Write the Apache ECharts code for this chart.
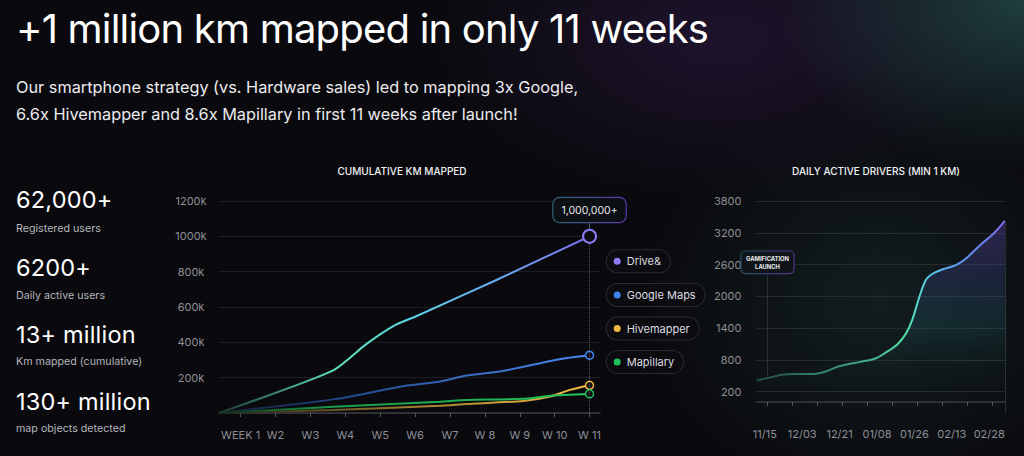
<!DOCTYPE html>
<html>
<head>
<meta charset="utf-8">
<script src="https://cdn.jsdelivr.net/npm/echarts@6/dist/echarts.min.js"></script>
<style>
  html, body { margin: 0; padding: 0; }
  body {
    width: 1024px; height: 456px; overflow: hidden; position: relative;
    font-family: 'Inter', 'Noto Sans', sans-serif; color: #fff;
    background:
      radial-gradient(ellipse 330px 230px at 1024px 0px, rgba(45,95,95,0.6), rgba(45,95,95,0) 75%),
      radial-gradient(ellipse 380px 210px at 720px 40px, rgba(55,30,82,0.45), rgba(55,30,82,0) 75%),
      radial-gradient(ellipse 320px 270px at 880px 300px, rgba(25,48,48,0.5), rgba(25,48,48,0) 75%),
      #0a0a0e;
  }
  .t { position: absolute; left: 16px; line-height: 1; white-space: nowrap; }
  #chart { position: absolute; left: 0; top: 0; width: 1024px; height: 456px; }
</style>
</head>
<body>
<div class="t" style="top:8.5px;font-size:40px;letter-spacing:-0.8px;">+1 million km mapped in only 11 weeks</div>
<div class="t" style="top:79.2px;font-size:16.3px;color:#ececef;">Our smartphone strategy (vs. Hardware sales) led to mapping 3x Google,</div>
<div class="t" style="top:105.9px;font-size:16.3px;color:#ececef;">6.6x Hivemapper and 8.6x Mapillary in first 11 weeks after launch!</div>

<div class="t" style="top:188px;font-size:23.5px;letter-spacing:0.2px;">62,000+</div>
<div class="t" style="top:223.8px;font-size:10.7px;color:#b4b4ba;">Registered users</div>
<div class="t" style="top:255.7px;font-size:23.5px;letter-spacing:0.2px;">6200+</div>
<div class="t" style="top:290.5px;font-size:10.7px;color:#b4b4ba;">Daily active users</div>
<div class="t" style="top:323px;font-size:23.5px;letter-spacing:0.2px;">13+ million</div>
<div class="t" style="top:357.2px;font-size:10.7px;color:#b4b4ba;">Km mapped (cumulative)</div>
<div class="t" style="top:389.7px;font-size:23.5px;letter-spacing:0.2px;">130+ million</div>
<div class="t" style="top:423.5px;font-size:10.7px;color:#b4b4ba;">map objects detected</div>

<div id="chart"></div>
<script>
// ---------- data ----------
const weekLabels = ['WEEK 1','W2','W3','W4','W5','W6','W7','W 8','W 9','W 10','W 11'];
const weekTicks = [1,2,3,4,5,6,7,8,9,10,11];
const kmTickLabels = ['200k','400k','600k','800k','1000k','1200k'];

const seriesNames = ['Drive&','Google Maps','Hivemapper','Mapillary'];
// week position, cumulative km (thousands)
const driveWeek  = [0.38, 3.64, 4.6, 5.4, 6.0, 8.3, 11];
const driveKm    = [0, 240, 390, 495, 545, 750, 1000];
const googleWeek = [0.38, 3.75, 5.57, 6.71, 7.48, 8.44, 9.58, 10.35, 11];
const googleKm   = [0, 80, 149, 178, 212, 235, 282, 311, 327];
const hiveWeek   = [0.38, 3.66, 6.71, 7.48, 9.1, 9.87, 10.44, 11];
const hiveKm     = [0, 17, 41, 51, 68, 93, 131, 157];
const mapilWeek  = [0.38, 3.66, 6.71, 7.48, 9.1, 9.87, 11];
const mapilKm    = [0, 36, 64, 74, 80, 98, 108];

const dateLabels = ['11/15','12/03','12/21','01/08','01/26','02/13','02/28'];
const dateLabelDays = [0, 18, 36, 54, 72, 90, 108];
const dateTickDays = [1.3, 13.3, 25.3, 37.3, 49.3, 61.3, 73.3, 85.3, 97.3, 109.3];
const driverTicks = [200, 800, 1400, 2000, 2600, 3200, 3800];
// days since 11/15, daily active drivers
const driverDays = [-4, 1.5, 8, 14.5, 22.5, 29, 35.5, 40.5, 46, 53.5, 58, 64, 68, 71, 74.5, 77.7, 81, 86, 92, 97, 104, 110, 115.5];
const driverVals = [410, 455, 515, 530, 530, 575, 675, 722, 760, 830, 930, 1100, 1300, 1560, 2000, 2320, 2430, 2515, 2590, 2720, 2980, 3180, 3425];

const milestoneLabel = '1,000,000+';
const launchLabel = 'GAMIFICATION\nLAUNCH';
const launchDay = 1.3;

// ---------- helpers ----------
const zip = (a, b) => a.map((v, i) => [v, b[i]]);
const LG = echarts.graphic.LinearGradient;
const FONT = 'Inter';
const axisLabelColor = '#8e8e96';

function endPoint(arr, size, color, bw) {
  const out = arr.map(p => p);
  const last = out[out.length - 1];
  out[out.length - 1] = {
    value: last, symbol: 'circle', symbolSize: size,
    itemStyle: { color: '#0b0b10', borderColor: color, borderWidth: bw }
  };
  return out;
}

const chart = echarts.init(document.getElementById('chart'), null, { renderer: 'svg' });

const lineColors = {
  'Drive&': new LG(0, 0, 1, 0, [
    { offset: 0, color: '#1c352c' }, { offset: 0.31, color: '#5fe3b8' },
    { offset: 0.52, color: '#5ad4e6' }, { offset: 0.78, color: '#6aa4f2' }, { offset: 1, color: '#8070f0' }]),
  'Google Maps': new LG(0, 0, 1, 0, [
    { offset: 0, color: '#141c30' }, { offset: 0.35, color: '#234a90' }, { offset: 1, color: '#4a8af5' }]),
  'Hivemapper': new LG(0, 0, 1, 0, [
    { offset: 0, color: '#1e1b14' }, { offset: 0.5, color: '#9a7a2e' }, { offset: 1, color: '#f5bd45' }]),
  'Mapillary': new LG(0, 0, 1, 0, [
    { offset: 0, color: '#122a1a' }, { offset: 0.3, color: '#189a48' }, { offset: 1, color: '#22c55e' }])
};
const baseColors = { 'Drive&': '#8b7cf6', 'Google Maps': '#3f82f0', 'Hivemapper': '#f0b840', 'Mapillary': '#1fbf5a' };

function leftSeries(name, data, size, bw, extra) {
  return Object.assign({
    name, type: 'line', xAxisIndex: 0, yAxisIndex: 0,
    color: baseColors[name],
    data: endPoint(data, size, baseColors[name], bw),
    symbol: 'none', showSymbol: true, smooth: 0.2,
    lineStyle: { width: 2, color: lineColors[name] },
    emphasis: { disabled: true }, z: 3
  }, extra || {});
}

const boxBorder = new LG(0, 0, 1, 0, [{ offset: 0, color: '#2c6270' }, { offset: 1, color: '#5c3aae' }]);
const boxBorder2 = new LG(0, 0, 1, 0, [{ offset: 0, color: '#2a5464' }, { offset: 1, color: '#4e3490' }]);

const option = {
  animation: false,
  title: [
    { text: 'CUMULATIVE KM MAPPED', left: 397, top: 161, textAlign: 'center',
      textStyle: { color: '#f2f2f4', fontSize: 10, fontWeight: 500, fontFamily: FONT } },
    { text: 'DAILY ACTIVE DRIVERS (MIN 1 KM)', left: 871, top: 161, textAlign: 'center',
      textStyle: { color: '#f2f2f4', fontSize: 10, fontWeight: 500, fontFamily: FONT } }
  ],
  legend: {
    data: seriesNames, orient: 'vertical', left: 601.7, top: 249.3, itemGap: 9.6, padding: 0,
    itemWidth: 0, itemHeight: 0, icon: 'circle', selectedMode: false,
    formatter: name => `{d${seriesNames.indexOf(name)}|}{t|${name}}`,
    textStyle: {
      color: '#dcdce0', fontSize: 11, fontFamily: FONT,
      backgroundColor: '#0b0b10', borderColor: '#2a2a31', borderWidth: 1, borderRadius: 11,
      padding: [5, 9, 5, 7],
      rich: {
        d0: { width: 7, height: 7, borderRadius: 3.5, backgroundColor: baseColors['Drive&'] },
        d1: { width: 7, height: 7, borderRadius: 3.5, backgroundColor: baseColors['Google Maps'] },
        d2: { width: 7, height: 7, borderRadius: 3.5, backgroundColor: baseColors['Hivemapper'] },
        d3: { width: 7, height: 7, borderRadius: 3.5, backgroundColor: baseColors['Mapillary'] },
        t: { padding: [0, 0, 0, 6], fontSize: 11, lineHeight: 12, color: '#dcdce0', fontFamily: FONT }
      }
    }
  },
  grid: [
    { left: 219, right: 424, top: 201, bottom: 43 },
    { left: 756.5, right: 19, top: 201, bottom: 43.3 }
  ],
  xAxis: [
    { type: 'value', gridIndex: 0, min: 0.38, max: 11.3,
      axisLine: { show: true, lineStyle: { color: '#3a3a40', width: 1.5 } },
      axisTick: { show: true, customValues: weekTicks, length: 4, lineStyle: { color: '#55555c' } },
      axisLabel: { customValues: weekTicks, formatter: v => weekLabels[Math.round(v) - 1],
        color: axisLabelColor, fontSize: 11, fontFamily: FONT, margin: 16 },
      splitLine: { show: false } },
    { type: 'value', gridIndex: 1, min: -4, max: 115.6,
      axisLine: { show: true, lineStyle: { color: '#3a3e3e', width: 1.5 } },
      axisTick: { show: true, customValues: dateTickDays, length: 4, lineStyle: { color: '#56595a' } },
      axisLabel: { customValues: dateLabelDays, formatter: v => dateLabels[dateLabelDays.indexOf(Math.round(v))],
        color: axisLabelColor, fontSize: 11, fontFamily: FONT, margin: 16 },
      splitLine: { show: false } }
  ],
  yAxis: [
    { type: 'value', gridIndex: 0, min: 0, max: 1200, interval: 200,
      axisLine: { show: false }, axisTick: { show: false },
      axisLabel: { formatter: v => (v === 0 ? '' : kmTickLabels[v / 200 - 1]), align: 'center', margin: 28,
        color: axisLabelColor, fontSize: 11, fontFamily: FONT },
      splitLine: { lineStyle: { color: '#1d1d23', width: 1.2 } } },
    { type: 'value', gridIndex: 1, min: -200, max: 3800,
      axisLine: { show: false },
      axisTick: { show: false, customValues: driverTicks },
      axisLabel: { customValues: driverTicks, formatter: v => String(Math.round(v)),
        color: axisLabelColor, fontSize: 11, fontFamily: FONT, margin: 15 },
      splitLine: { show: true, customValues: driverTicks, lineStyle: { color: '#262c2c', width: 1.2 } } }
  ],
  series: [
    leftSeries('Drive&', zip(driveWeek, driveKm), 13, 2, {
      z: 5,
      markLine: {
        silent: true, symbol: ['none', 'none'], label: { show: false },
        data: [
          [{ coord: [11, 0], lineStyle: { type: 'dotted', color: '#5a5a62', width: 1 } }, { coord: [11, 1000] }],
          [{ coord: [11, 1040], lineStyle: { type: 'solid', color: '#35606c', width: 1 } },
           { coord: [11, 1081], label: {
              show: true, position: 'end', distance: 0, formatter: milestoneLabel,
              color: '#e8e8ec', fontSize: 10.5, fontFamily: FONT, lineHeight: 12,
              padding: [6, 8], backgroundColor: '#0c0f14', borderColor: boxBorder, borderWidth: 1.2, borderRadius: 6 } }]
        ]
      }
    }),
    leftSeries('Google Maps', zip(googleWeek, googleKm), 8, 1.5),
    leftSeries('Hivemapper', zip(hiveWeek, hiveKm), 8, 1.5),
    leftSeries('Mapillary', zip(mapilWeek, mapilKm), 8, 1.5),
    {
      name: 'Daily active drivers', type: 'line', xAxisIndex: 1, yAxisIndex: 1,
      data: zip(driverDays, driverVals), symbol: 'none', smooth: 0.35,
      emphasis: { disabled: true },
      lineStyle: { width: 2, color: new LG(0, 0, 1, 0, [
        { offset: 0, color: '#22483a' }, { offset: 0.45, color: '#3fb088' }, { offset: 0.6, color: '#55e0a8' },
        { offset: 0.68, color: '#58cde6' }, { offset: 0.8, color: '#5a9ef0' }, { offset: 1, color: '#7a6ce8' }]) },
      areaStyle: { origin: 'start', color: new LG(0, 0, 0, 1, [
        { offset: 0, color: 'rgba(112,70,190,0.5)' }, { offset: 0.3, color: 'rgba(72,82,170,0.34)' },
        { offset: 0.55, color: 'rgba(40,130,140,0.26)' }, { offset: 0.78, color: 'rgba(30,90,80,0.08)' },
        { offset: 1, color: 'rgba(20,40,40,0)' }]) },
      markLine: {
        silent: true, symbol: ['none', 'none'], label: { show: false },
        lineStyle: { type: 'dotted', color: '#4a5252', width: 1 },
        data: [
          [{ coord: [launchDay, 460] }, { coord: [launchDay, 2440], label: {
              show: true, position: 'end', distance: 0, formatter: launchLabel,
              color: '#f0f0f2', fontSize: 5.8, fontWeight: 700, fontFamily: FONT, lineHeight: 7.7, align: 'center',
              padding: [3, 4.5], backgroundColor: '#0e1418', borderColor: boxBorder2, borderWidth: 1.2, borderRadius: 4 } }],
          [{ coord: [115.5, -200] }, { coord: [115.5, 3425] }]
        ]
      }
    }
  ]
};
chart.setOption(option);
</script>
</body>
</html>
